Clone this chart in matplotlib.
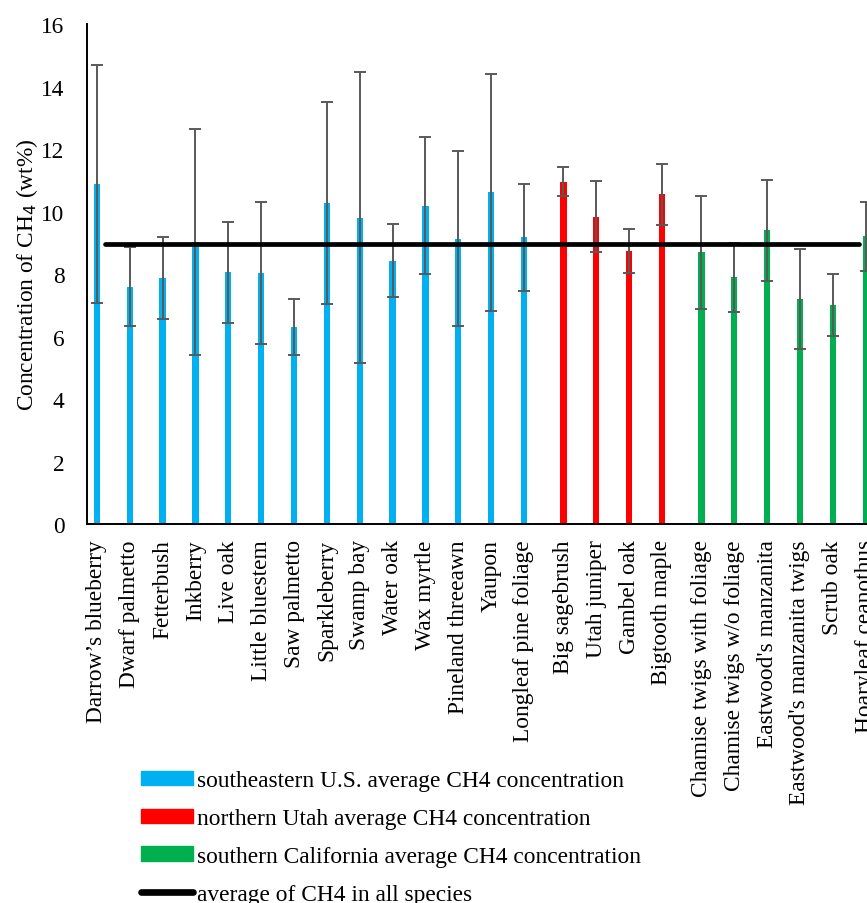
import numpy as np
import matplotlib.pyplot as plt
from matplotlib.patches import Patch
from matplotlib.lines import Line2D

plt.rcParams['font.family'] = ['Liberation Serif', 'DejaVu Serif']

species = ["Darrow’s blueberry", "Dwarf palmetto", "Fetterbush", "Inkberry",
           "Live oak", "Little bluestem", "Saw palmetto", "Sparkleberry",
           "Swamp bay", "Water oak", "Wax myrtle", "Pineland threeawn",
           "Yaupon", "Longleaf pine foliage",
           "Big sagebrush", "Utah juniper", "Gambel oak", "Bigtooth maple",
           "Chamise twigs with foliage", "Chamise twigs w/o foliage",
           "Eastwood's manzanita", "Eastwood's manzanita twigs", "Scrub oak",
           "Hoaryleaf ceanothus"]
ch4_mean = [10.87, 7.59, 7.87, 9.02, 8.06, 8.02, 6.30, 10.27, 9.80, 8.43,
            10.19, 9.13, 10.61, 9.17,
            10.96, 9.84, 8.73, 10.55,
            8.69, 7.90, 9.40, 7.20, 7.01, 9.21]
ch4_sd = [3.81, 1.26, 1.31, 3.62, 1.62, 2.27, 0.89, 3.23, 4.65, 1.18,
          2.20, 2.80, 3.78, 1.71,
          0.46, 1.13, 0.70, 0.97,
          1.80, 1.10, 1.61, 1.60, 1.00, 1.10]
region = ["southeastern U.S."] * 14 + ["northern Utah"] * 4 + ["southern California"] * 6
region_names = ["southeastern U.S.", "northern Utah", "southern California"]
region_colors = ["#00B0F0", "#FF0000", "#00B050"]
ch4_all_avg = 8.96

fs = 16.8

# small gap between the three regions
group_idx = np.array([region_names.index(r) for r in region])
pos = np.arange(len(species)) + 0.2 * group_idx
colors = [region_colors[g] for g in group_idx]

fig = plt.figure(figsize=(8.67, 9.04), dpi=100)
ax = fig.add_axes([0.1, 0.4192, 0.9, 0.5531])

ax.bar(pos, ch4_mean, width=0.19, color=colors, zorder=2)
ax.errorbar(pos, ch4_mean, yerr=ch4_sd, fmt='none', ecolor='#595959',
            elinewidth=1.4, capsize=4.5, capthick=1.4, zorder=3)
ax.plot([pos[0] + 0.25, pos[-1] - 0.2], [ch4_all_avg, ch4_all_avg],
        color='black', linewidth=3.4, solid_capstyle='round', zorder=4)

ax.set_xlim(-0.31, pos[-1] + 0.04)
ax.set_ylim(0, 16)
ax.set_yticks(range(0, 17, 2))
ax.set_xticks(pos)
ax.set_xticklabels(species, rotation=90, fontsize=fs)
ax.tick_params(axis='y', length=0, pad=16, labelsize=fs)
ax.tick_params(axis='x', length=0, pad=11)
ax.set_ylabel("Concentration of CH$_4$ (wt%)", fontsize=fs, labelpad=1)

for s in ['top', 'right']:
    ax.spines[s].set_visible(False)
ax.spines['left'].set_linewidth(1.4)
ax.spines['bottom'].set_linewidth(1.4)

handles = [Patch(color=c) for c in region_colors]
handles.append(Line2D([], [], color='black', linewidth=4.8, solid_capstyle='round'))
labels = [r + " average CH4 concentration" for r in region_names]
labels.append("average of CH4 in all species")
fig.legend(handles, labels, loc='upper left', bbox_to_anchor=(0.163, 0.147),
           frameon=False, fontsize=fs, handlelength=2.23, handleheight=0.56,
           handletextpad=0.17, labelspacing=0.72, borderpad=0, borderaxespad=0)

fig.savefig("out.png", dpi=100)
